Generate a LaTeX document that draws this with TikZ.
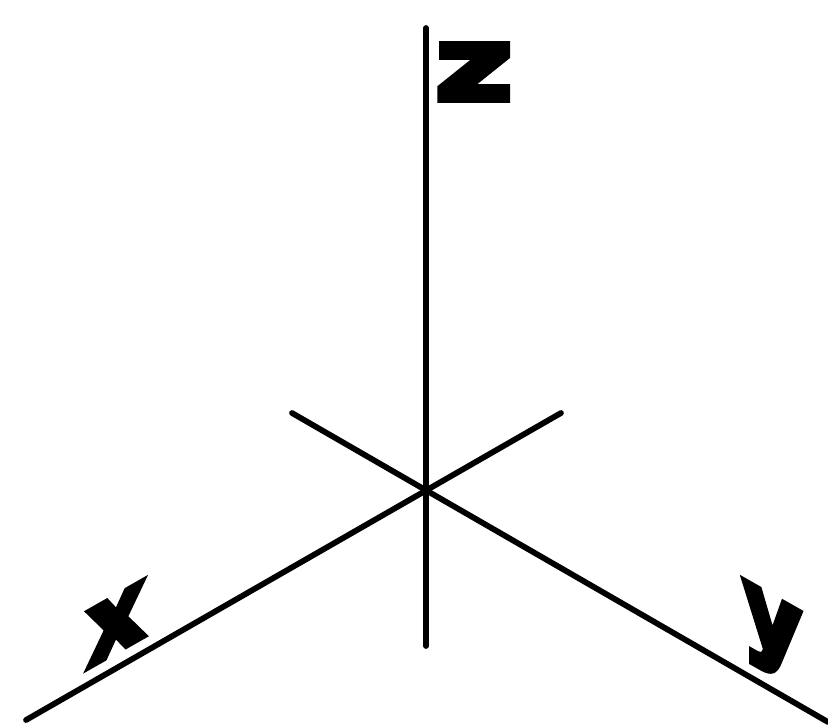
\documentclass[tikz,border=0pt]{standalone}
\usepackage{fontspec}
\newfontfamily\axisfont[FakeBold=6]{DejaVu Sans Bold}
\tikzset{
  axisline/.style={line width=0.115cm,line cap=round},
  axislabel/.style={inner sep=0pt,transform shape,font=\axisfont\fontsize{58}{58}\selectfont}
}
\begin{document}
\begin{tikzpicture}[x=0.02cm,y=-0.02cm]
\useasboundingbox (0,0) rectangle (828,724);
\coordinate (ztop) at (426,28);
\coordinate (zbot) at (426,646);
\coordinate (xend) at (26,720);
\coordinate (xback) at (561,413);
\coordinate (yend) at (828,722);
\coordinate (yback) at (292,413);
\draw[axisline] (ztop) -- (zbot);
\draw[axisline] (xend) -- (xback);
\draw[axisline] (yend) -- (yback);
\node[axislabel,cm={1.3,0,0,1,(0,0)}] (zlabel) at (474,72) {z};
\node[axislabel,cm={0.88,0.5,0,1,(0,0)}] (xlabel) at (116,624) {x};
\node[axislabel,cm={0.88,-0.5,0,1,(0,0)}] (ylabel) at (772,635) {y};
\end{tikzpicture}
\end{document}
